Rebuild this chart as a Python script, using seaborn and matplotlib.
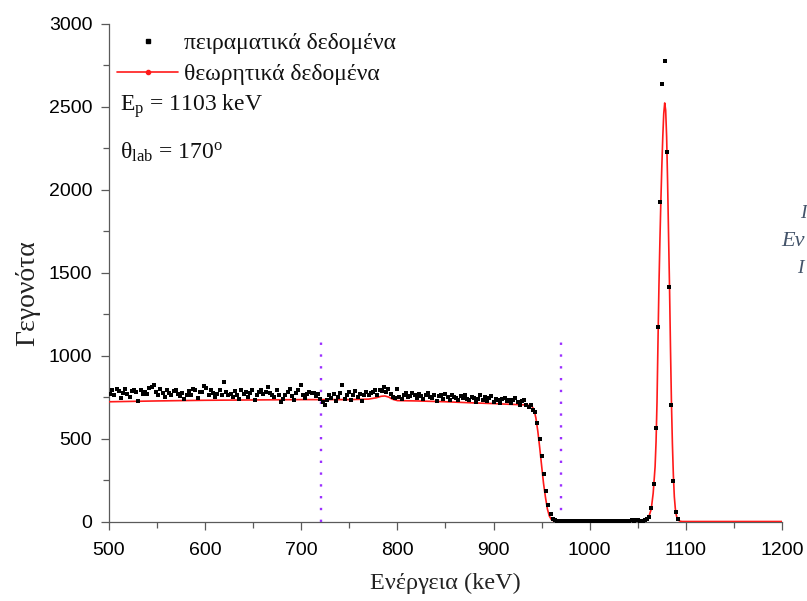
import numpy as np
import pandas as pd
import matplotlib
matplotlib.use("Agg")
import matplotlib.pyplot as plt
from matplotlib.lines import Line2D
import seaborn as sns

# ---------------- data ----------------
E_START = 501.0      # keV, first channel
E_STEP = 2.28        # keV per channel

plateau_counts = [
    770, 790, 762, 800, 788, 745, 775, 798, 770, 752,
    784, 795, 780, 728, 790, 770, 782, 768, 805, 812,
    822, 780, 760, 800, 773, 748, 790, 776, 760, 784,
    793, 770, 755, 775, 738, 765, 785, 760, 800, 790,
    745, 782, 778, 818, 804, 762, 790, 774, 752, 770,
    795, 765, 842, 778, 760, 770, 750, 788, 765, 740,
    795, 768, 782, 750, 772, 790, 730, 760, 778, 792,
    770, 783, 812, 775, 760, 748, 795, 765, 718, 740,
    760, 782, 798, 757, 730, 772, 790, 822, 760, 745,
    768, 780, 772, 775, 755, 770, 740, 718, 705, 735,
    760, 745, 770, 725, 752, 775, 822, 740, 762, 778,
    732, 760, 785, 750, 770, 728, 765, 780, 760, 772,
    778, 790, 762, 795, 785, 812, 780, 798, 770, 752,
    745, 800, 752, 740, 765, 772, 748, 758, 775, 762,
    742, 768, 755, 738, 760, 772, 750, 745, 765, 728,
    755, 762, 740, 770, 748, 735, 760, 752, 745, 732,
    758, 742, 765, 738, 730, 752, 745, 720, 740, 760,
    735, 748, 728, 742, 755, 722, 740, 732, 715, 738,
    745, 725, 735, 712, 730, 742, 720, 705, 728, 735,
    700, 690, 705, 672,
]
edge_counts = [660, 595, 495, 392, 288, 185, 98, 44, 18]
gap_counts = [
    8, 5, 3, 6, 2, 4, 3, 5, 2, 3,
    4, 2, 6, 3, 2, 4, 3, 5, 2, 3,
    4, 6, 2, 3, 5, 3, 4, 2, 6, 4,
    3, 5, 4, 6, 5, 8, 6, 9, 7, 6,
    5, 8, 14, 30,
]
peak_counts = [80, 224, 566, 1175, 1927, 2640, 2779, 2230, 1417, 703, 244, 58, 13]

theory_energy = [500, 550, 600, 650, 700, 750, 770, 778, 783, 787, 791, 795, 800,
                 820, 850, 880, 900, 920, 935, 940, 942, 944, 946, 948, 950, 952,
                 954, 956, 958, 960, 962, 965, 1000, 1040, 1050, 1055, 1058, 1060,
                 1062, 1064, 1066, 1068, 1069, 1070, 1071, 1072, 1073, 1074, 1075,
                 1076, 1077, 1078, 1079, 1080, 1081, 1082, 1083, 1084, 1085, 1086,
                 1087, 1088, 1089, 1090, 1091, 1092, 1094, 1096, 1100, 1200]
theory_counts = [722, 727, 731, 733, 735, 735, 738, 746, 755, 757, 750, 737, 729,
                 727, 722, 715, 711, 706, 703, 694, 675, 625, 545, 445, 335, 228,
                 145, 75, 33, 13, 5, 1, 0, 1, 3, 6, 12, 20,
                 38, 75, 170, 330, 480, 720, 1080, 1420, 1690, 1930, 2140,
                 2320, 2460, 2524, 2480, 2320, 2050, 1730, 1420, 1050, 720, 470,
                 280, 150, 80, 40, 18, 8, 2, 0, 0, 0]

marker_lines_keV = [720, 970]

legend_labels = ["πειραματικά δεδομένα", "θεωρητικά δεδομένα"]
x_label = "Ενέργεια (keV)"
y_label = "Γεγονότα"
x_ticks = [500, 600, 700, 800, 900, 1000, 1100, 1200]
y_ticks = [0, 500, 1000, 1500, 2000, 2500, 3000]

counts = plateau_counts + edge_counts + gap_counts + peak_counts
energy = E_START + E_STEP * np.arange(len(counts))
exp_df = pd.DataFrame({"energy": energy, "counts": counts})
th_df = pd.DataFrame({"energy": theory_energy, "counts": theory_counts})

# ---------------- style ----------------
sns.set_theme(style="ticks")
plt.rcParams["font.family"] = ["Liberation Sans", "DejaVu Sans"]
plt.rcParams["mathtext.fontset"] = "custom"
plt.rcParams["mathtext.rm"] = "Liberation Serif"
plt.rcParams["mathtext.it"] = "Liberation Serif:italic"

SERIF = ["Liberation Serif", "DejaVu Serif"]
AXIS_GRAY = "#5a5a5a"

fig = plt.figure(figsize=(8.07, 6.01), dpi=100)
ax = fig.add_axes([109 / 807, 1 - 521.5 / 601, 673 / 807, 497.5 / 601])

# dotted vertical markers
for xv in marker_lines_keV:
    ax.plot([xv, xv], [0, 1100], color="#9b30ff", lw=1.7,
            linestyle=(0, (1, 4.0)), zorder=1)

sns.lineplot(data=th_df, x="energy", y="counts", ax=ax, color="#ff1a1a",
             lw=1.2, zorder=2, legend=False, estimator=None, sort=False)
sns.scatterplot(data=exp_df, x="energy", y="counts", ax=ax, color="black",
                marker="s", s=10, linewidth=0, zorder=3, legend=False)

ax.set_xlim(500, 1200)
ax.set_ylim(0, 3000)
ax.set_xticks(x_ticks)
ax.set_yticks(y_ticks)
ax.set_xticks([550, 650, 750, 850, 950, 1050, 1150], minor=True)
ax.set_yticks([250, 750, 1250, 1750, 2250, 2750], minor=True)
ax.tick_params(axis="both", which="major", direction="out", length=6,
               width=0.9, color=AXIS_GRAY, labelsize=14, labelcolor="black")
ax.tick_params(axis="x", which="major", pad=9)
ax.tick_params(axis="y", which="major", pad=6)
ax.tick_params(axis="both", which="minor", direction="out", length=4,
               width=0.9, color=AXIS_GRAY)
for side in ["top", "right"]:
    ax.spines[side].set_visible(False)
for side in ["left", "bottom"]:
    ax.spines[side].set_color(AXIS_GRAY)
    ax.spines[side].set_linewidth(0.9)
for spine in ax.spines.values():
    spine.set_zorder(0)

ax.set_xlabel(x_label, family=SERIF, fontsize=17.5, color="#222222", labelpad=10)
ax.set_ylabel(y_label, family=SERIF, fontsize=20, color="#222222")
ax.yaxis.set_label_coords(-0.102, 0.46)

handles = [
    Line2D([], [], color="black", marker="s", markersize=3.2, linestyle="none"),
    Line2D([], [], color="#ff1a1a", lw=1.2, marker="o", markersize=3),
]
leg = ax.legend(handles, legend_labels, loc="upper left", frameon=False,
                bbox_to_anchor=(0.012, 0.982), borderaxespad=0, borderpad=0,
                handlelength=2.6, handletextpad=0.25, labelspacing=0.38,
                prop={"family": SERIF, "size": 17})
for t in leg.get_texts():
    t.set_color("#111111")

ax.text(0.016, 0.834, r"E$_{\mathrm{p}}$ = 1103 keV", transform=ax.transAxes,
        family=SERIF, fontsize=17, va="center", ha="left", color="#111111")
ax.text(0.016, 0.742, r"θ$_{\mathrm{lab}}$ = 170$^{\mathrm{o}}$", transform=ax.transAxes,
        family=SERIF, fontsize=17, va="center", ha="left", color="#111111")

# fragments of surrounding caption text at the right edge
frag_color = "#44546a"
fig.text(800 / 807, 1 - 214 / 601, "I", family=SERIF, style="italic",
         fontsize=14, color=frag_color, va="center", ha="left")
fig.text(781 / 807, 1 - 241 / 601, "Εν", family=SERIF, style="italic",
         fontsize=16, color=frag_color, va="center", ha="left")
fig.text(797 / 807, 1 - 268 / 601, "I", family=SERIF, style="italic",
         fontsize=14, color=frag_color, va="center", ha="left")

fig.savefig("out.png", dpi=100, facecolor="white")
